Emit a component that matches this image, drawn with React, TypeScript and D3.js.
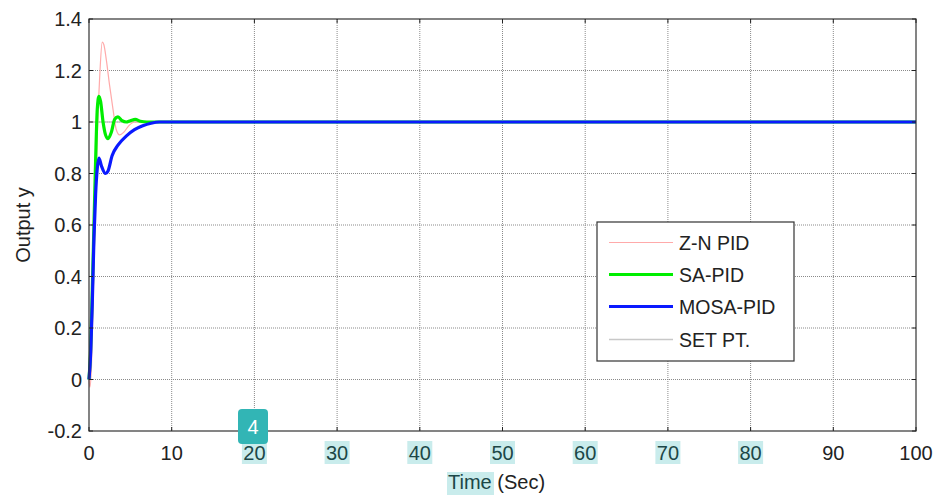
import React from "react";
import * as d3 from "d3";

const xTicks = [0, 10, 20, 30, 40, 50, 60, 70, 80, 90, 100];
const yTicks = [-0.2, 0, 0.2, 0.4, 0.6, 0.8, 1, 1.2, 1.4];
const highlightedX = [20, 30, 40, 50, 60, 70, 80];

const znT = [0, 0.1, 0.3, 0.5, 0.8, 1.0, 1.3, 1.6, 1.8, 2.1, 2.5, 2.9, 3.3, 3.7, 4.2, 4.8, 5.5, 7, 100];
const znY = [0, -0.03, 0.05, 0.3, 0.7, 0.95, 1.18, 1.31, 1.3, 1.24, 1.14, 1.05, 0.97, 0.95, 0.96, 0.985, 1.0, 1.0, 1.0];

const saT = [0, 0.2, 0.4, 0.6, 0.8, 1.0, 1.2, 1.4, 1.7, 2.0, 2.3, 2.7, 3.1, 3.5, 4.0, 4.5, 5.0, 5.6, 6.2, 7, 100];
const saY = [0, 0.12, 0.35, 0.6, 0.85, 1.05, 1.1, 1.08, 1.0, 0.95, 0.935, 0.96, 1.01, 1.02, 1.005, 1.0, 1.005, 1.01, 1.003, 1.0, 1.0];

const mosaT = [0, 0.2, 0.4, 0.6, 0.8, 1.0, 1.2, 1.5, 2.0, 2.3, 2.8, 3.5, 4.5, 5.5, 6.5, 7.5, 8.5, 100];
const mosaY = [0, 0.1, 0.3, 0.55, 0.72, 0.82, 0.86, 0.83, 0.8, 0.81, 0.87, 0.91, 0.945, 0.97, 0.985, 0.995, 1.0, 1.0];

const spT = [0, 100];
const spY = [1, 1];

const legendNames = ["Z-N PID", "SA-PID", "MOSA-PID", "SET PT."];

export default function App() {
  const W = 938, H = 497;
  const L = 89, R = 916, T = 19, B = 431;
  const x = d3.scaleLinear().domain([0, 100]).range([L, R]);
  const y = d3.scaleLinear().domain([-0.2, 1.4]).range([B, T]);
  const line = (ts: number[], vs: number[]) =>
    d3.line<number>().x((_, i) => x(ts[i])).y((v) => y(v)).curve(d3.curveMonotoneX)(vs) || "";

  const series = [
    { t: spT, v: spY, color: "#c8c8c8", w: 1.5 },
    { t: znT, v: znY, color: "#ffaaaa", w: 1.2 },
    { t: saT, v: saY, color: "#00ee00", w: 3.2 },
    { t: mosaT, v: mosaY, color: "#0a1aff", w: 3.2 },
  ];
  const legendStyles = [
    { color: "#ffaaaa", w: 1.2 },
    { color: "#00ee00", w: 3.2 },
    { color: "#0a1aff", w: 3.2 },
    { color: "#c8c8c8", w: 1.5 },
  ];
  const font = "'Liberation Sans', Arial, Helvetica, sans-serif";
  const tk = 4;
  const fs = 20;
  const fmtY = (v: number) => {
    if (Math.abs(v) < 1e-9) return "0";
    const s = String(+v.toFixed(1));
    return s;
  };

  const legX = 597, legY = 222, legW = 197, legH = 139;
  const rowY = [243, 275, 307, 340];

  return (
    <svg width={W} height={H} style={{ position: "absolute", left: 0, top: 0, background: "#fff" }} fontFamily={font}>
      <rect x={0} y={0} width={W} height={H} fill="#fff" />
      {/* grid */}
      {xTicks.slice(1, -1).map((t) => (
        <line key={"gx" + t} x1={x(t)} x2={x(t)} y1={T} y2={B} stroke="#8a8a8a" strokeWidth={1} strokeDasharray="1,1" />
      ))}
      {yTicks.slice(1, -1).map((t) => (
        <line key={"gy" + t} x1={L} x2={R} y1={y(t)} y2={y(t)} stroke="#8a8a8a" strokeWidth={1} strokeDasharray="1,1" />
      ))}
      {/* series */}
      {series.map((s, i) => (
        <path key={"s" + i} d={line(s.t, s.v)} fill="none" stroke={s.color} strokeWidth={s.w} strokeLinejoin="round" />
      ))}
      {/* frame */}
      <rect x={L} y={T} width={R - L} height={B - T} fill="none" stroke="#333" strokeWidth={1.2} />
      {/* ticks */}
      {xTicks.map((t) => (
        <g key={"xt" + t}>
          <line x1={x(t)} x2={x(t)} y1={B} y2={B - tk} stroke="#222" />
          <line x1={x(t)} x2={x(t)} y1={T} y2={T + tk} stroke="#222" />
        </g>
      ))}
      {yTicks.map((t) => (
        <g key={"yt" + t}>
          <line x1={L} x2={L + tk} y1={y(t)} y2={y(t)} stroke="#222" />
          <line x1={R} x2={R - tk} y1={y(t)} y2={y(t)} stroke="#222" />
        </g>
      ))}
      {/* x tick labels with highlights */}
      {xTicks.map((t) => {
        const hl = highlightedX.includes(t);
        return (
          <g key={"xl" + t}>
            {hl && <rect x={x(t) - 12.5} y={441} width={25} height={23} fill="#c9ecec" />}
            <text x={x(t)} y={460} textAnchor="middle" fontSize={fs} fill={hl ? "#1c4747" : "#222"}>{t}</text>
          </g>
        );
      })}
      {yTicks.map((t) => (
        <text key={"yl" + t} x={82} y={y(t) + 7} textAnchor="end" fontSize={fs} fill="#222">{fmtY(t)}</text>
      ))}
      {/* axis titles */}
      <rect x={447} y={472} width={47} height={23} fill="#c9ecec" />
      <text x={448} y={489} fontSize={fs} fill="#222">
        <tspan fill="#1c4747">Time</tspan> (Sec)
      </text>
      <text transform={`translate(30,${(T + B) / 2}) rotate(-90)`} textAnchor="middle" fontSize={fs} fill="#222">Output y</text>
      {/* legend */}
      <rect x={legX} y={legY} width={legW} height={legH} fill="#fff" stroke="#333" strokeWidth={1.2} />
      {legendNames.map((n, i) => (
        <g key={"lg" + i}>
          <line x1={609} x2={673} y1={rowY[i] - 0.5} y2={rowY[i] - 0.5} stroke={legendStyles[i].color} strokeWidth={legendStyles[i].w} />
          <text x={679} y={rowY[i] + 7} fontSize={19.5} fill="#222">{n}</text>
        </g>
      ))}
      {/* badge */}
      <rect x={238} y={409} width={30} height={35} rx={4} fill="#32b5b5" />
      <text x={253} y={434} textAnchor="middle" fontSize={20} fill="#fff">4</text>
    </svg>
  );
}
